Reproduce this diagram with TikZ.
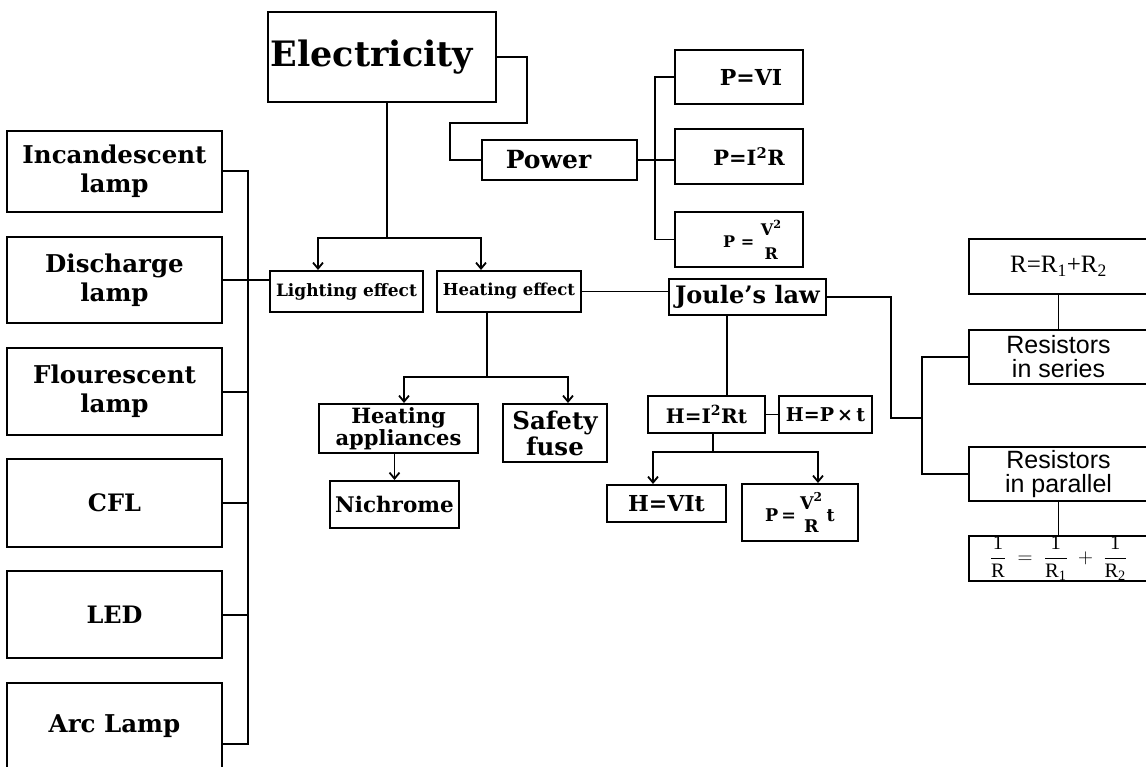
\documentclass[tikz,border=0pt]{standalone}
\usepackage{fontspec}
\usepackage{amsmath}
\setmainfont{DejaVu Serif}
\newfontfamily\arialfont{Liberation Sans}
\newfontfamily\timesfont{Liberation Serif}
\usetikzlibrary{arrows.meta,positioning}
\newcommand{\fsz}[2]{\fontsize{#1}{#2}\selectfont}
\tikzset{wh/.style 2 args={minimum width=#1pt,minimum height=#2pt}}

\begin{document}
\begin{tikzpicture}
  [x=1pt,y=-1pt,line width=1.8pt,>={Straight Barb[length=6pt,width=10pt]}]
  \tikzstyle{box}=[draw,line width=2pt,inner sep=0pt,align=center,font=\bfseries]
  \tikzstyle{sbox}=[draw,line width=1.8pt,inner sep=0pt,align=center]
  \tikzstyle{thin}=[line width=1.1pt]

  \useasboundingbox (0,0) rectangle (1146,767);

  % top
  \node[box,wh={228}{90},font=\bfseries\fsz{35}{35}] (elec) at (382,57) {Electricity\hspace*{20pt}};
  \node[box,wh={155}{40},font=\bfseries\fsz{25}{25}] (power) at (559.5,160) {Power\hspace*{22pt}};
  \node[box,wh={128}{54},font=\bfseries\fsz{22}{22}] (pvi) at (739,77) {\hspace*{24pt}P=VI};
  \node[box,wh={128}{55},font=\bfseries\fsz{21}{21}] (pisr) at (739,156.5) {\hspace*{20pt}P=I\textsuperscript{2}R};
  \node[box,wh={128}{55},font=\bfseries\fsz{16}{16}] (pvsr) at (739,239.5)
    {\hspace*{28pt}$\textbf{P}\ \textbf{=}\ \genfrac{}{}{0pt}{0}{\textbf{V}^{\textbf{2}}}{\textbf{R}}$};

  % lamps
  \node[box,wh={215}{81},font=\bfseries\fsz{24.5}{29}] (inc) at (114.5,171.5) {Incandescent\\lamp};
  \node[box,wh={215}{86},font=\bfseries\fsz{24.5}{29}] (dis) at (114.5,280) {Discharge\\lamp};
  \node[box,wh={215}{87},font=\bfseries\fsz{24.5}{29}] (flo) at (114.5,391.5) {Flourescent\\lamp};
  \node[box,wh={215}{88},font=\bfseries\fsz{24}{29}] (cfl) at (114.5,503) {CFL};
  \node[box,wh={215}{87},font=\bfseries\fsz{24}{29}] (led) at (114.5,614.5) {LED};
  \node[box,wh={215}{87},font=\bfseries\fsz{24.5}{29}] (arc) at (114.5,726.5) {Arc Lamp};

  % effects
  \node[box,wh={153}{41},font=\bfseries\fsz{17}{17}] (light) at (346.5,291.5) {Lighting effect};
  \node[box,wh={144}{41},font=\bfseries\fsz{16.5}{17}] (heat) at (509,291.5) {Heating effect};
  \node[box,wh={159}{49},font=\bfseries\fsz{21}{18}] (happ) at (398.5,428.5) {Heating\\appliances};
  \node[box,wh={104}{58},font=\bfseries\fsz{24.5}{26}] (fuse) at (555,433) {Safety\\fuse};
  \node[box,wh={129}{47},font=\bfseries\fsz{21.5}{21}] (nichr) at (394.5,504.5) {Nichrome};

  % joule
  \node[box,wh={157}{36},font=\bfseries\fsz{24}{24}] (joule) at (747.5,297) {Joule’s law};
  \node[box,wh={117}{37},font=\bfseries\fsz{20}{20}] (hirt) at (706.5,414.5) {H=I\textsuperscript{2}Rt};
  \node[box,wh={93}{37},font=\bfseries\fsz{19}{19}] (hpt) at (825.5,414.5) {H=P\,×\,t};
  \node[box,wh={119}{37},font=\bfseries\fsz{22}{22}] (hvit) at (666.5,503.5) {H=VIt};
  \node[box,wh={116}{57},font=\bfseries\fsz{17.5}{17.5}] (pvrt) at (800,512.5)
    {$\textbf{P}\,\textbf{=}\,\genfrac{}{}{0pt}{0}{\textbf{V}^{\textbf{2}}}{\textbf{R}}\,\textbf{t}$};

  % resistors
  \node[sbox,wh={179}{55},font=\timesfont\fsz{25}{25}] (rsum) at (1058.5,266.5)
    {R=R\textsubscript{1}+R\textsubscript{2}};
  \node[sbox,wh={179}{54},font=\arialfont\fsz{25}{24}] (rser) at (1058.5,357) {Resistors\\in series};
  \node[sbox,wh={179}{54},font=\arialfont\fsz{25}{24}] (rpar) at (1058.5,474) {Resistors\\in parallel};
  \node[sbox,wh={179}{43},font=\timesfont\fsz{20.5}{20.5}] (rfrac) at (1058.5,558.5)
    {$\dfrac{\text{1}}{\text{R}}\;=\;\dfrac{\text{1}}{\text{R}_{\text{1}}}\;+\;\dfrac{\text{1}}{\text{R}_{\text{2}}}$};

  % electricity branches
  \draw (elec.east) -- ++(30,0) -- ++(0,66) -- ++(-77,0) |- (power.west);
  \draw ([xshift=5pt]elec.south) -- ++(0,135) coordinate (ej);
  \draw[->] (ej) -| ([xshift=-28.5pt]light.north);
  \draw[->] (ej) -| ([xshift=-28pt]heat.north);

  % power formulas
  \draw (power.east) -- (power.east -| pisr.west);
  \draw (pvi.west) -- ++(-19,0) coordinate (pb) -- (pb |- pvsr.west) -- (pvsr.west);

  % lamps bus
  \draw[line width=2pt] (inc.east) -| ([xshift=25pt,yshift=-17.5pt]arc.east) -- ([yshift=-17.5pt]arc.east);
  \foreach \n in {dis,flo,cfl,led}
    \draw[line width=2pt] (\n.east) -- ++(25,0);
  \draw (dis.east) -- (dis.east -| light.west);

  % heating effect
  \draw[thin] (heat.east) -- (heat.east -| joule.west);
  \draw ([xshift=-22pt]heat.south) -- ++(0,64) coordinate (hj);
  \draw[->] (hj) -| ([xshift=5.5pt]happ.north);
  \draw[->] (hj) -| ([xshift=13pt]fuse.north);
  \draw[->] (happ.south -| nichr.north) -- (nichr.north);

  % joule branches
  \draw[thin] ([xshift=-20.5pt]joule.south) -- ([xshift=-20.5pt]joule.south |- hirt.north);
  \draw (hirt.east) -- (hpt.west);
  \draw ([xshift=6.5pt]hirt.south) -- ++(0,18) coordinate (hk);
  \draw[->] (hk) -| ([xshift=-13.5pt]hvit.north);
  \draw[->] (hk) -| ([xshift=18pt]pvrt.north);
  \draw[thin] (joule.east) -- ++(64,0) -- ++(0,121) -- ++(31,0) coordinate (rj);
  \draw[thin] (rser.west) -| (rj) |- (rpar.west);
  \draw (rsum.south) -- (rser.north);
  \draw (rpar.south) -- (rpar.south |- rfrac.north);
\end{tikzpicture}
\end{document}
